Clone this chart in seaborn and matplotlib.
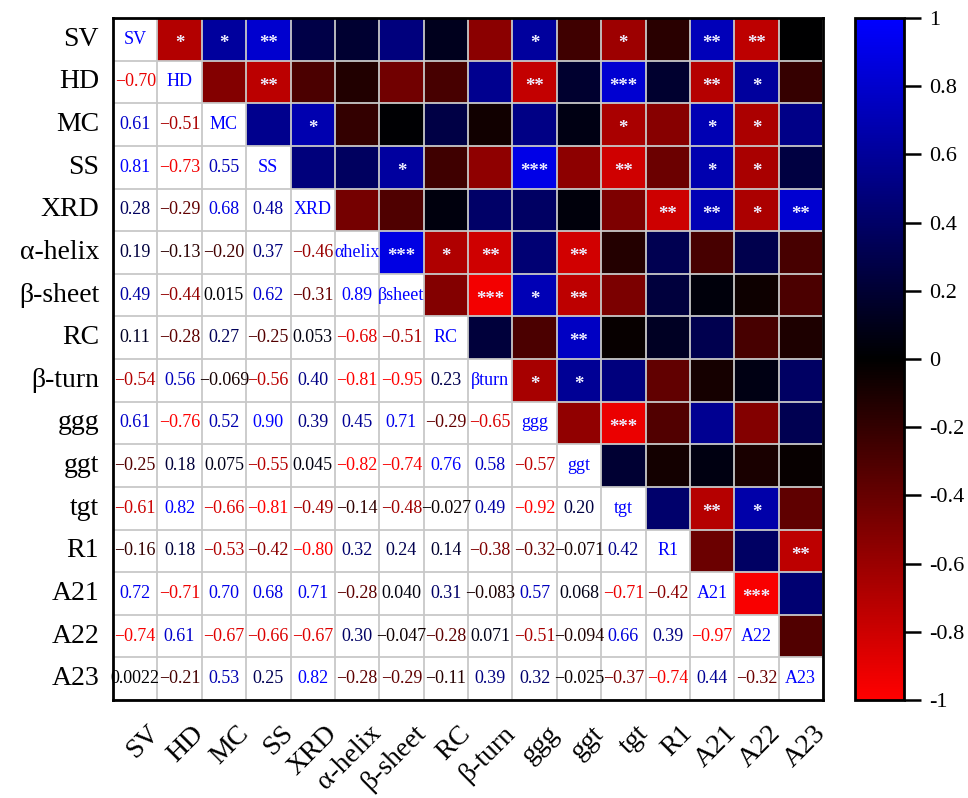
import numpy as np
import pandas as pd
import matplotlib
matplotlib.use('Agg')
import matplotlib.pyplot as plt
import matplotlib.transforms as mtransforms
import seaborn as sns
from matplotlib.colors import LinearSegmentedColormap

labels = ['SV', 'HD', 'MC', 'SS', 'XRD', 'α-helix', 'β-sheet', 'RC', 'β-turn',
          'ggg', 'ggt', 'tgt', 'R1', 'A21', 'A22', 'A23']
diag_labels = ['SV', 'HD', 'MC', 'SS', 'XRD', 'αhelix', 'βsheet', 'RC', 'βturn',
               'ggg', 'ggt', 'tgt', 'R1', 'A21', 'A22', 'A23']

lower = [
    [],
    [-0.70],
    [0.61, -0.51],
    [0.81, -0.73, 0.55],
    [0.28, -0.29, 0.68, 0.48],
    [0.19, -0.13, -0.20, 0.37, -0.46],
    [0.49, -0.44, 0.015, 0.62, -0.31, 0.89],
    [0.11, -0.28, 0.27, -0.25, 0.053, -0.68, -0.51],
    [-0.54, 0.56, -0.069, -0.56, 0.40, -0.81, -0.95, 0.23],
    [0.61, -0.76, 0.52, 0.90, 0.39, 0.45, 0.71, -0.29, -0.65],
    [-0.25, 0.18, 0.075, -0.55, 0.045, -0.82, -0.74, 0.76, 0.58, -0.57],
    [-0.61, 0.82, -0.66, -0.81, -0.49, -0.14, -0.48, -0.027, 0.49, -0.92, 0.20],
    [-0.16, 0.18, -0.53, -0.42, -0.80, 0.32, 0.24, 0.14, -0.38, -0.32, -0.071, 0.42],
    [0.72, -0.71, 0.70, 0.68, 0.71, -0.28, 0.040, 0.31, -0.083, 0.57, 0.068, -0.71, -0.42],
    [-0.74, 0.61, -0.67, -0.66, -0.67, 0.30, -0.047, -0.28, 0.071, -0.51, -0.094, 0.66, 0.39, -0.97],
    [0.0022, -0.21, 0.53, 0.25, 0.82, -0.28, -0.29, -0.11, 0.39, 0.32, -0.025, -0.37, -0.74, 0.44, -0.32],
]

# significance stars in the upper triangle: (row, col, stars)
stars = [
    (0, 1, '*'), (0, 2, '*'), (0, 3, '**'), (0, 9, '*'), (0, 11, '*'), (0, 13, '**'), (0, 14, '**'),
    (1, 3, '**'), (1, 9, '**'), (1, 11, '***'), (1, 13, '**'), (1, 14, '*'),
    (2, 4, '*'), (2, 11, '*'), (2, 13, '*'), (2, 14, '*'),
    (3, 6, '*'), (3, 9, '***'), (3, 11, '**'), (3, 13, '*'), (3, 14, '*'),
    (4, 12, '**'), (4, 13, '**'), (4, 14, '*'), (4, 15, '**'),
    (5, 6, '***'), (5, 7, '*'), (5, 8, '**'), (5, 10, '**'),
    (6, 8, '***'), (6, 9, '*'), (6, 10, '**'),
    (7, 10, '**'),
    (8, 9, '*'), (8, 10, '*'),
    (9, 11, '***'),
    (11, 13, '**'), (11, 14, '*'),
    (12, 15, '**'),
    (13, 14, '***'),
]

cbar_ticks = [-1, -0.8, -0.6, -0.4, -0.2, 0, 0.2, 0.4, 0.6, 0.8, 1]

n = len(labels)
M = np.eye(n)
for i, row in enumerate(lower):
    for j, v in enumerate(row):
        M[i, j] = v
        M[j, i] = v
df = pd.DataFrame(M, index=labels, columns=labels)

sns.set_theme(style='white')
plt.rcParams['font.family'] = ['Liberation Serif', 'DejaVu Serif']

cmap = LinearSegmentedColormap.from_list('rkb', ['#ff0000', '#000000', '#0000ff'])

fig = plt.figure(figsize=(9.68, 7.98), dpi=100)
ax = fig.add_axes([113 / 968, 1 - 700 / 798, 710 / 968, 682 / 798])
cax = fig.add_axes([855 / 968, 1 - 700 / 798, 49 / 968, 682 / 798])

mask = np.tril(np.ones_like(M, dtype=bool))
sns.heatmap(df, mask=mask, cmap=cmap, vmin=-1, vmax=1, ax=ax, cbar_ax=cax,
            linewidths=0, square=False)

# grid over all cells
ax.hlines(np.arange(n + 1), 0, n, color='#c8c8c8', lw=1.3, zorder=3)
ax.vlines(np.arange(n + 1), 0, n, color='#c8c8c8', lw=1.3, zorder=3)
ax.set_xlim(0, n)
ax.set_ylim(n, 0)

for sp in ax.spines.values():
    sp.set_visible(True)
    sp.set_color('black')
    sp.set_linewidth(2)
    sp.set_zorder(5)


def fmt(v):
    a = abs(v)
    if a >= 0.1:
        s = f'{a:.2f}'
    else:
        d = -int(np.floor(np.log10(a))) + 1
        s = f'{a:.{d}f}'
    return ('\u2212' if v < 0 else '') + s


for i in range(n):
    for j in range(i):
        v = M[i, j]
        t = np.sign(v) * min(1.0, 1.3 * abs(v))
        ax.text(j + 0.5, i + 0.5, fmt(v), ha='center', va='center',
                fontsize=13, color=cmap((t + 1) / 2), zorder=4)
    ax.text(i + 0.5, i + 0.5, diag_labels[i], ha='center', va='center',
            fontsize=13, color='#0000ff', zorder=4)

for (i, j, s) in stars:
    ax.text(j + 0.5, i + 0.6, s, ha='center', va='center', fontsize=13.5,
            fontweight='bold', color='#eeeeff', zorder=4)

ax.set_xticks(np.arange(n) + 0.5)
ax.set_yticks(np.arange(n) + 0.5)
ax.set_xticklabels(labels, rotation=45, ha='right', rotation_mode='anchor', fontsize=20)
ax.set_yticklabels(labels, rotation=0, fontsize=20)
ax.tick_params(axis='x', length=0, pad=15, labelcolor='black')
ax.tick_params(axis='y', length=0, pad=10, labelcolor='black')
ax.set_xlabel('')
ax.set_ylabel('')
shift = mtransforms.ScaledTranslation(0.12, 0, fig.dpi_scale_trans)
for lab in ax.get_xticklabels():
    lab.set_transform(lab.get_transform() + shift)

cbar = ax.collections[0].colorbar
cbar.set_ticks(cbar_ticks)
cbar.set_ticklabels([f'{t:g}' for t in cbar_ticks])
cax.tick_params(length=12, width=1.8, labelsize=16, pad=6, direction='out', right=True,
                color='black', labelcolor='black')
cbar.outline.set_visible(True)
cbar.outline.set_linewidth(2)
cbar.outline.set_edgecolor('black')

fig.savefig('out.png', dpi=100)
